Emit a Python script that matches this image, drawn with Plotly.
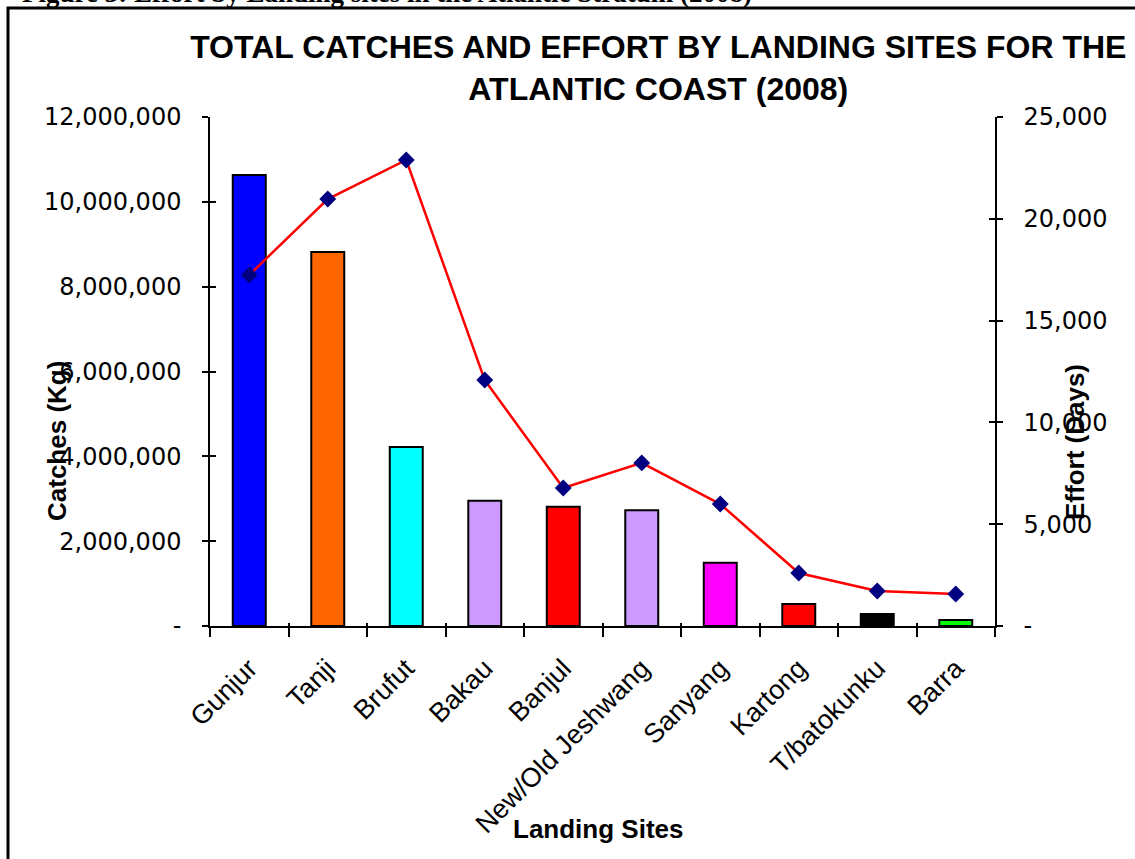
import plotly.graph_objects as go

sites = ["Gunjur", "Tanji", "Brufut", "Bakau", "Banjul", "New/Old Jeshwang",
         "Sanyang", "Kartong", "T/batokunku", "Barra"]
catches_kg = [10630000, 8820000, 4220000, 2950000, 2810000, 2730000,
              1490000, 520000, 280000, 140000]
effort_days = [17240, 20970, 22890, 12080, 6780, 8010, 5990, 2600, 1720, 1570]
bar_colors = ["#0000FF", "#FF6600", "#00FFFF", "#CC99FF", "#FF0000", "#CC99FF",
              "#FF00FF", "#FF0000", "#000000", "#00FF00"]

left_tickvals = [0, 2000000, 4000000, 6000000, 8000000, 10000000, 12000000]
left_ticktext = ["-", "2,000,000", "4,000,000", "6,000,000", "8,000,000",
                 "10,000,000", "12,000,000"]
right_tickvals = [0, 5000, 10000, 15000, 20000, 25000]
right_ticktext = ["-", "5,000", "10,000", "15,000", "20,000", "25,000"]

W, H = 1135, 859
L, R, T, B = 210, 995, 117, 626


def px(x):
    return (x - L) / (R - L)


def py(y):
    return (B - y) / (B - T)


fig = go.Figure()
fig.add_trace(go.Bar(x=sites, y=catches_kg, marker=dict(color=bar_colors,
                     line=dict(color="black", width=2)),
                     yaxis="y", xaxis="x", showlegend=False))
fig.add_trace(go.Scatter(x=sites, y=effort_days, mode="lines+markers",
                         line=dict(color="#FF0000", width=2.5),
                         marker=dict(symbol="diamond", size=13, color="#000080"),
                         yaxis="y2", xaxis="x", showlegend=False))
# helper traces for crossing ticks
for ya, xa in [("y3", "x"), ("y4", "x"), ("y", "x2")]:
    fig.add_trace(go.Scatter(x=sites, y=[None] * len(sites), mode="lines",
                             yaxis=ya, xaxis=xa, showlegend=False, hoverinfo="skip"))

sans = "Liberation Sans, Arial, sans-serif"
tickfont = dict(family="DejaVu Sans, sans-serif", size=24, color="black")

fig.update_layout(
    width=W, height=H,
    margin=dict(l=L, r=W - R, t=T, b=H - B, pad=0, autoexpand=False),
    paper_bgcolor="white", plot_bgcolor="white",
    bargap=0.58,
    title=dict(text="<b>TOTAL CATCHES AND EFFORT BY LANDING SITES FOR THE<br>ATLANTIC COAST (2008)</b>",
               x=0.58, xanchor="center", y=0.932, yanchor="top",
               font=dict(family=sans, size=32, color="black")),
    xaxis=dict(type="category", categoryorder="array", categoryarray=sites,
               showline=True, linecolor="black", linewidth=1.5,
               ticks="outside", ticklen=9, tickcolor="black", tickwidth=1.5,
               tickson="boundaries", tickangle=-45, ticklabelshift=0,
               ticklabelstandoff=14,
               tickfont=dict(family=sans, size=27, color="black"),
               showgrid=False, zeroline=False, range=[-0.5, 9.5]),
    xaxis2=dict(type="category", categoryorder="array", categoryarray=sites,
                overlaying="x", anchor="y", side="bottom",
                showline=False, ticks="inside", ticklen=3, tickcolor="black", tickwidth=1.5,
                tickson="boundaries", showticklabels=False, showgrid=False,
                zeroline=False, range=[-0.5, 9.5]),
    yaxis=dict(range=[0, 12000000], tickvals=left_tickvals, ticktext=left_ticktext,
               showline=True, linecolor="black", linewidth=1.5,
               ticks="outside", ticklen=6, tickcolor="black", tickwidth=1.5,
               tickfont=tickfont, ticklabelstandoff=16,
               showgrid=False, zeroline=False),
    yaxis3=dict(range=[0, 12000000], tickvals=left_tickvals, overlaying="y", side="left",
                anchor="x", showline=False, ticks="inside", ticklen=6, tickcolor="black",
                tickwidth=1.5, showticklabels=False, showgrid=False, zeroline=False),
    yaxis2=dict(range=[0, 25000], tickvals=right_tickvals, ticktext=right_ticktext,
                overlaying="y", side="right", anchor="x",
                showline=True, linecolor="black", linewidth=1.5,
                ticks="outside", ticklen=6, tickcolor="black", tickwidth=1.5,
                tickfont=tickfont, ticklabelstandoff=16,
                showgrid=False, zeroline=False),
    yaxis4=dict(range=[0, 25000], tickvals=right_tickvals, overlaying="y", side="right",
                anchor="x", showline=False, ticks="inside", ticklen=6, tickcolor="black",
                tickwidth=1.5, showticklabels=False, showgrid=False, zeroline=False),
)

fig.add_annotation(text="<b>Catches (Kg)</b>", xref="paper", yref="paper",
                   x=px(57), y=py(441), textangle=-90, showarrow=False,
                   xanchor="center", yanchor="middle",
                   font=dict(family=sans, size=26, color="black"))
fig.add_annotation(text="<b>Effort (Days)</b>", xref="paper", yref="paper",
                   x=px(1075), y=py(442), textangle=-90, showarrow=False,
                   xanchor="center", yanchor="middle",
                   font=dict(family=sans, size=26, color="black"))
fig.add_annotation(text="<b>Landing Sites</b>", xref="paper", yref="paper",
                   x=px(598), y=py(829), showarrow=False,
                   xanchor="center", yanchor="middle",
                   font=dict(family=sans, size=26, color="black"))
fig.add_annotation(text="<b>Figure 3: Effort by Landing sites in the Atlantic Stratum (2008)</b>",
                   xref="paper", yref="paper", x=px(20), y=py(10), xanchor="left",
                   yanchor="bottom", showarrow=False,
                   font=dict(family="Liberation Serif, Times New Roman, serif", size=27, color="black"))

fig.add_shape(type="rect", xref="paper", yref="paper",
              x0=px(8), x1=px(1300), y0=py(1000), y1=py(8),
              line=dict(color="black", width=3), fillcolor="rgba(0,0,0,0)", layer="below")

fig.write_html("out.html", config={"displayModeBar": False},
               post_script="document.body.style.margin='0';document.body.style.overflow='hidden';")
